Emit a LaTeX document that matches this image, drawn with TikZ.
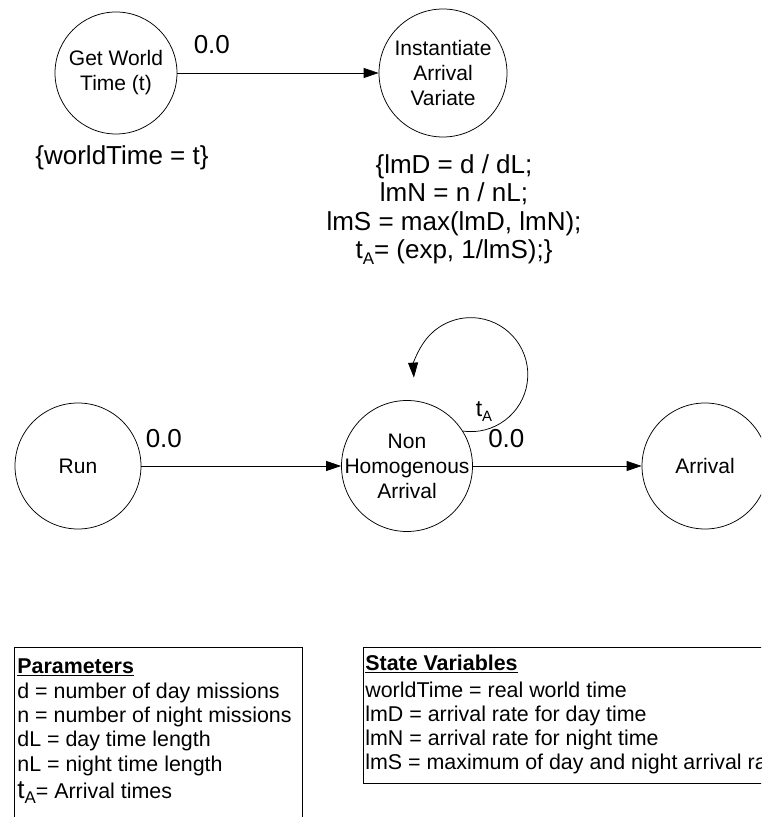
\documentclass[tikz,border=0pt]{standalone}
\usepackage{fontspec}
\setmainfont{Liberation Sans}
\usetikzlibrary{arrows.meta}

\newcommand{\tA}{t\raisebox{-0.22em}{\scalebox{0.65}{A}}}

\tikzset{
  state/.style={draw, circle, inner sep=0pt, align=center, font=\fontsize{21}{25}\selectfont},
  trans/.style={-{Triangle[length=15pt,width=10pt]}},
  delay/.style={anchor=south west, inner sep=0pt, font=\fontsize{26}{29}\selectfont},
  big/.style={inner sep=0pt, align=center, font=\fontsize{26}{28.5}\selectfont},
  boxline/.style={anchor=base west, inner sep=0pt, font=\fontsize{21.4}{25}\selectfont},
}

\begin{document}
\begin{tikzpicture}[x=1pt, y=1pt, line width=0.75pt]
  \useasboundingbox (0,0) rectangle (761,817);
  \clip (0,0) rectangle (761,817);

  % event graph: world time
  \node[state, minimum size=122pt] (gwt) at (116,744) {Get World\\Time (t)};
  \node[state, minimum size=128pt] (inst) at (443,744) {Instantiate\\Arrival\\Variate};
  \draw[trans] (gwt) -- (inst) node[delay, pos=0, xshift=16pt, yshift=19pt] (d1) {0.0};
  \node[big, anchor=base] (wt) at (122,652) {\{worldTime = t\}};
  \node[big, anchor=north] (lam) at (454,663) {\{lmD = d / dL;\\lmN = n / nL;\\lmS = max(lmD, lmN);\\\tA= (exp, 1/lmS);\}};

  % event graph: arrivals
  \node[state, minimum size=126pt] (run) at (78,351) {Run};
  \node[state, minimum size=131pt, inner sep=-8pt] (nha) at (407,351) {Non\\Homogenous\\Arrival};
  \node[state, minimum size=126pt] (arr) at (705,351) {Arrival};
  \draw[trans] (run) -- (nha) node[delay, pos=0, xshift=4pt, yshift=18pt] (d2) {0.0};
  \draw[trans] (nha) -- (arr) node[delay, pos=0, xshift=15pt, yshift=18pt] (d3) {0.0};
  \draw[trans] (nha.32) arc[start angle=-98, end angle=183, radius=57];
  \node[font=\fontsize{23}{23}\selectfont, inner sep=0pt] (ta) at (484,405) {\tA};

  % parameters and state variables
  \draw (14,170) rectangle (302,-5);
  \node[boxline] (ph) at (17,143) {\underline{\textbf{Parameters}}};
  \foreach \txt [count=\i] in {d = number of day missions, n = number of night missions, dL = day time length, nL = night time length}
    \node[boxline] (p\i) at (17,143-24.3*\i) {\txt};
  \node[boxline] (p5) at (17,19) {{\fontsize{26}{26}\selectfont\tA}= Arrival times};

  \draw (363,170) rectangle (800,34);
  \node[boxline] (sh) at (365,146) {\underline{\textbf{State Variables}}};
  \foreach \txt [count=\i] in {worldTime = real world time, lmD = arrival rate for day time, lmN = arrival rate for night time, lmS = maximum of day and night arrival rates}
    \node[boxline] (s\i) at (365,143.7-24*\i) {\txt};
\end{tikzpicture}
\end{document}
